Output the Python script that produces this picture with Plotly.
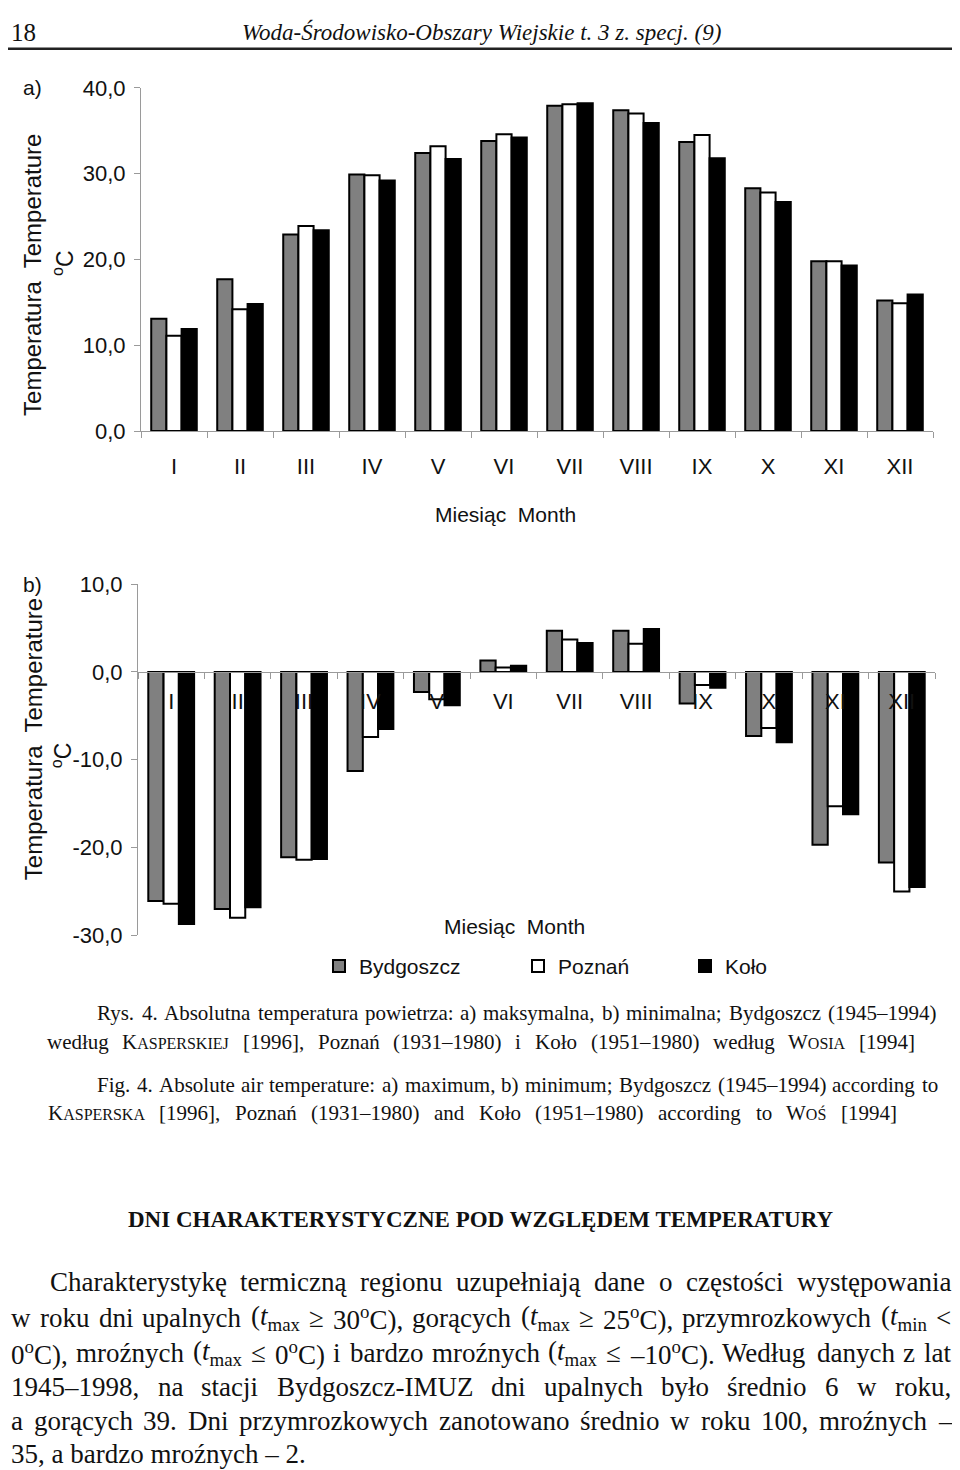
import re
import plotly.graph_objects as go

# ---------------- data ----------------
months = ["I", "II", "III", "IV", "V", "VI", "VII", "VIII", "IX", "X", "XI", "XII"]
stations = ["Bydgoszcz", "Poznań", "Koło"]

max_bydgoszcz = [13.1, 17.7, 22.9, 29.9, 32.4, 33.8, 37.9, 37.4, 33.7, 28.3, 19.8, 15.2]
max_poznan = [11.1, 14.2, 23.9, 29.8, 33.2, 34.6, 38.1, 37.0, 34.5, 27.8, 19.8, 14.9]
max_kolo = [11.9, 14.8, 23.4, 29.2, 31.7, 34.2, 38.2, 35.9, 31.8, 26.7, 19.3, 15.9]

min_bydgoszcz = [-26.1, -27.0, -21.1, -11.3, -2.3, 1.3, 4.7, 4.7, -3.6, -7.3, -19.7, -21.7]
min_poznan = [-26.4, -28.0, -21.4, -7.4, -3.1, 0.5, 3.7, 3.2, -1.5, -6.4, -15.3, -25.0]
min_kolo = [-28.7, -26.8, -21.3, -6.5, -3.8, 0.7, 3.3, 4.9, -1.8, -8.0, -16.2, -24.5]

y_ticks_a = [0, 10, 20, 30, 40]
y_ticks_b = [-30, -20, -10, 0, 10]


def fmt(v):
    return f"{v:.1f}".replace(".", ",")


# ---------------- geometry helpers (target px -> paper) ----------------
FW, FH = 944, 1474
OX, OY, SY = 8, 21.2, 0.9825
SANS = "Liberation Sans, Arial, sans-serif"
SERIF = "Liberation Serif, Times New Roman, serif"


def xp(px):
    return (px - OX) / FW


def yp(py):
    return 1 - ((py - OY) / SY) / FH


colors = ["#808080", "#ffffff", "#000000"]
legends = ["legend", "legend2", "legend3"]
max_series = [max_bydgoszcz, max_poznan, max_kolo]
min_series = [min_bydgoszcz, min_poznan, min_kolo]

fig = go.Figure()
for name, col, va, vb, lg in zip(stations, colors, max_series, min_series, legends):
    fig.add_trace(go.Bar(x=months, y=va, name=name, xaxis="x", yaxis="y",
                         marker=dict(color=col, line=dict(color="black", width=2)),
                         showlegend=False))
    fig.add_trace(go.Bar(x=months, y=vb, name=name, xaxis="x2", yaxis="y2",
                         marker=dict(color=col, line=dict(color="black", width=2)),
                         legend=lg, showlegend=True))

axis_grey = "#9a9a9a"
tickfont = dict(family=SANS, size=22, color="#111111")

common_x = dict(type="category", tickson="boundaries", ticks="outside", ticklen=6,
                tickcolor=axis_grey, showline=True, linecolor=axis_grey, linewidth=1,
                showgrid=False, zeroline=False, tickfont=tickfont)
common_y = dict(ticks="outside", ticklen=6, tickcolor=axis_grey,
                showline=True, linecolor=axis_grey, linewidth=1, showgrid=False,
                zeroline=False, tickfont=tickfont, ticklabelstandoff=4)

fig.update_layout(
    width=FW, height=FH,
    margin=dict(l=0, r=0, t=0, b=0),
    paper_bgcolor="white", plot_bgcolor="white",
    barmode="group", bargap=0.31, bargroupgap=0,
    xaxis=dict(domain=[xp(141), xp(933)], anchor="y", ticklabelstandoff=16, **common_x),
    yaxis=dict(domain=[yp(432), yp(89)], anchor="x", range=[0, 40],
               tickvals=y_ticks_a, ticktext=[fmt(v) for v in y_ticks_a], **common_y),
    xaxis2=dict(domain=[xp(138), xp(935)], anchor="free", position=yp(672.5),
                ticklabelstandoff=10, **common_x),
    yaxis2=dict(domain=[yp(936), yp(585)], anchor="x2", range=[-30, 10],
                tickvals=y_ticks_b, ticktext=[fmt(v) for v in y_ticks_b], **common_y),
)

leg_common = dict(orientation="h", xanchor="left", yanchor="middle", y=yp(967),
                  font=dict(family=SANS, size=21, color="#111111"),
                  bgcolor="rgba(0,0,0,0)", borderwidth=0)
fig.update_layout(
    legend=dict(x=xp(319), **leg_common),
    legend2=dict(x=xp(518), **leg_common),
    legend3=dict(x=xp(685), **leg_common),
)

ann = []


def add(text, x, y, size, family, xanchor="left", angle=0, yanchor="middle",
        color="#111111"):
    ann.append(dict(text=text, x=xp(x), y=yp(y), xref="paper", yref="paper",
                    xanchor=xanchor, yanchor=yanchor, showarrow=False,
                    textangle=angle, font=dict(family=family, size=size, color=color)))


# Times / Liberation Serif advance widths (1/1000 em)
TW = {" ": 250, "(": 333, ")": 333, ",": 250, "-": 333, ".": 250, ":": 278, ";": 278,
      "<": 564, "[": 333, "]": 333, "–": 500, "≥": 549, "≤": 549}
for ch in "0123456789":
    TW[ch] = 500
TW.update(dict(zip("ABCDEFGHIJKLMNOPQRSTUVWXYZ",
                   [722, 667, 667, 722, 611, 556, 722, 722, 333, 389, 722, 611, 889, 722, 722,
                    556, 722, 667, 556, 611, 722, 722, 944, 722, 722, 611])))
TW.update(dict(zip("abcdefghijklmnopqrstuvwxyz",
                   [444, 500, 444, 500, 444, 333, 500, 500, 278, 278, 500, 278, 778, 500, 500,
                    500, 500, 333, 389, 278, 500, 500, 722, 500, 500, 444])))
TW.update({"ą": 444, "ę": 444, "ć": 444, "ł": 278, "ń": 500, "ó": 500, "ś": 389,
           "ź": 444, "ż": 444, "Ś": 556, "Ę": 611, "Ł": 611})

CAP = 21
SC = 16


def sc(s):
    return "<span style='font-size:%dpx'>" % SC + s + "</span>"


def measure(markup, size):
    s = markup.replace("&lt;", "<")
    total, scale = 0.0, 1.0
    for tok in re.split(r"(<[^>]+>)", s):
        if tok.startswith("<") and tok.endswith(">") and len(tok) > 1:
            if tok in ("<sub>", "<sup>"):
                scale = 0.7
            elif tok.startswith("<span"):
                scale = SC / size
            elif tok in ("</sub>", "</sup>", "</span>"):
                scale = 1.0
            continue
        for ch in tok:
            total += TW.get(ch, 500) * scale
    return total * size / 1000.0


def split_words(text):
    return re.split(r" (?![^<]*>)", text)


def justify(text, left, right, y, size, family):
    words = split_words(text)
    widths = [measure(w, size) for w in words]
    gap = (right - left - sum(widths)) / (len(words) - 1)
    x = left
    for w, wd in zip(words, widths):
        add(w, x, y, size, family)
        x += wd + gap


# header (the page top is not drawable above ~21 px, so it sits just below)
add("18", 9, 18, 25, SERIF, yanchor="top")
add("<i>Woda-Środowisko-Obszary Wiejskie t. 3 z. specj. (9)</i>", 481, 18, 23, SERIF,
    xanchor="center", yanchor="top")

# panel labels and axis titles
add("a)", 21, 89, 21, SANS)
add("b)", 21, 585, 21, SANS)
add("Temperatura  Temperature", 33, 276, 24, SANS, xanchor="center", angle=-90)
add("<sup>o</sup>C", 63, 264, 23, SANS, xanchor="center", angle=-90)
add("Temperatura  Temperature", 33, 740, 24, SANS, xanchor="center", angle=-90)
add("<sup>o</sup>C", 62, 756, 23, SANS, xanchor="center", angle=-90)
add("Miesiąc  Month", 505, 515, 21, SANS, xanchor="center")
add("Miesiąc  Month", 515, 927, 21, SANS, xanchor="center")

# caption
justify("Rys. 4. Absolutna temperatura powietrza: a) maksymalna, b) minimalna; Bydgoszcz (1945–1994)",
        95, 934, 1014, CAP, SERIF)
justify("według K" + sc("ASPERSKIEJ") + " [1996], Poznań (1931–1980) i Koło (1951–1980) według W"
        + sc("OSIA") + " [1994]", 45, 913, 1043, CAP, SERIF)
justify("Fig. 4. Absolute air temperature: a) maximum, b) minimum; Bydgoszcz (1945–1994) according to",
        95, 936, 1086, CAP, SERIF)
justify("K" + sc("ASPERSKA") + " [1996], Poznań (1931–1980) and Koło (1951–1980) according to W"
        + sc("OŚ") + " [1994]", 46, 895, 1114, CAP, SERIF)

# body
add("<b>DNI CHARAKTERYSTYCZNE POD WZGLĘDEM TEMPERATURY</b>", 480, 1220, 23, SERIF,
    xanchor="center")

tm = "<i>t</i><sub>max</sub>"
tmin = "<i>t</i><sub>min</sub>"
deg = "<sup>o</sup>C"
body_lines = [
    (48, 1283, "Charakterystykę termiczną regionu uzupełniają dane o częstości występowania", True),
    (9, 1318, "w roku dni upalnych (" + tm + " ≥ 30" + deg + "), gorących (" + tm + " ≥ 25" + deg
     + "), przymrozkowych (" + tmin + " &lt;", True),
    (9, 1353, "0" + deg + "), mroźnych (" + tm + " ≤ 0" + deg + ") i bardzo mroźnych (" + tm
     + " ≤ –10" + deg + "). Według danych z lat", True),
    (9, 1387, "1945–1998, na stacji Bydgoszcz-IMUZ dni upalnych było średnio 6 w roku,", True),
    (9, 1421, "a gorących 39. Dni przymrozkowych zanotowano średnio w roku 100, mroźnych –", True),
    (9, 1454, "35, a bardzo mroźnych – 2.", False),
]
for x0, y0, t, just in body_lines:
    if just:
        justify(t, x0, 949, y0, 27, SERIF)
    else:
        add(t, x0, y0, 27, SERIF)

fig.update_layout(
    annotations=ann,
    shapes=[dict(type="line", xref="paper", yref="paper", x0=0, x1=1,
                 y0=yp(50), y1=yp(50), line=dict(color="#222222", width=2.5))],
)

fig.write_html("out.html")
